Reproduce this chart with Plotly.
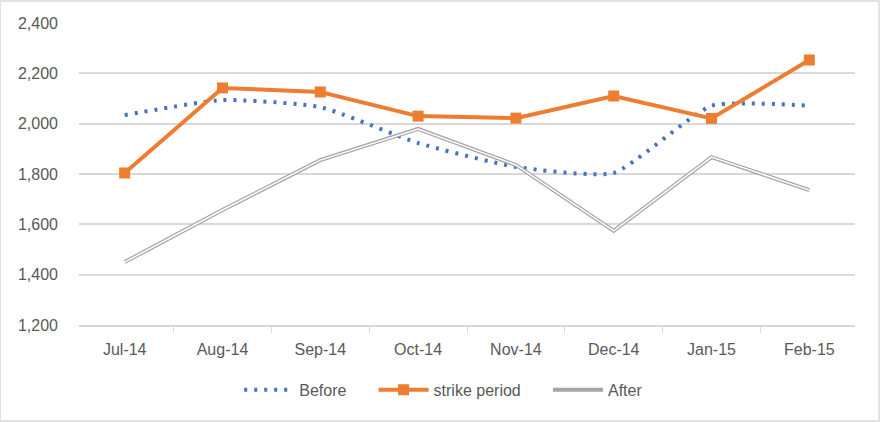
import plotly.graph_objects as go

months = ["Jul-14", "Aug-14", "Sep-14", "Oct-14", "Nov-14", "Dec-14", "Jan-15", "Feb-15"]
before = [2034, 2094, 2066, 1923, 1828, 1804, 2071, 2071]
strike = [1804, 2142, 2126, 2030, 2022, 2110, 2021, 2253]
after = [1450, 1657, 1855, 1979, 1836, 1574, 1867, 1736]
y_ticks = [1200, 1400, 1600, 1800, 2000, 2200, 2400]

FONT = "Liberation Sans, Arial, sans-serif"
PAD = "\u00a0" * 5

fig = go.Figure()
fig.add_trace(go.Scatter(
    x=months, y=before, name="Before" + PAD, mode="lines",
    line=dict(color="#4472C4", width=4, dash="3px,7px", shape="spline", smoothing=0.5),
))
fig.add_trace(go.Scatter(
    x=months, y=strike, name="strike period" + PAD, mode="lines+markers",
    line=dict(color="#ED7D31", width=4),
    marker=dict(symbol="square", size=11, color="#ED7D31"),
))
fig.add_trace(go.Scatter(
    x=months, y=after, name="After", mode="lines",
    line=dict(color="#A5A5A5", width=4), legendgroup="after",
))
fig.add_trace(go.Scatter(
    x=months, y=after, name="After", mode="lines", showlegend=False,
    line=dict(color="#FFFFFF", width=1.5), legendgroup="after", hoverinfo="skip",
))

fig.update_layout(
    width=880, height=422,
    margin=dict(l=79, r=25, t=23, b=97),
    paper_bgcolor="white", plot_bgcolor="white",
    font=dict(family=FONT, size=16, color="#595959"),
    showlegend=True,
    legend=dict(orientation="h", x=0.47, xanchor="center", y=-0.215, yanchor="middle",
                font=dict(size=16, color="#595959"), itemwidth=50, traceorder="normal"),
    xaxis=dict(
        type="category", showgrid=False, showline=True, linecolor="#D9D9D9", linewidth=1.5,
        ticks="outside", tickson="boundaries", ticklen=6, tickcolor="#D9D9D9",
        ticklabelstandoff=9,
        tickfont=dict(size=16, color="#595959"), fixedrange=True,
    ),
    yaxis=dict(
        range=[1200, 2400], tickvals=y_ticks, tickformat=",d",
        showgrid=True, gridcolor="#D9D9D9", gridwidth=1.5, zeroline=False, showline=False,
        ticks="", ticklabelstandoff=20, tickfont=dict(size=16, color="#595959"),
    ),
    shapes=[dict(type="rect", xref="paper", yref="paper", x0=-79/776, x1=1+24/776,
                 y0=-96/302, y1=1+22/302, line=dict(color="#D9D9D9", width=1.5))],
)

fig.write_html("out.html")
